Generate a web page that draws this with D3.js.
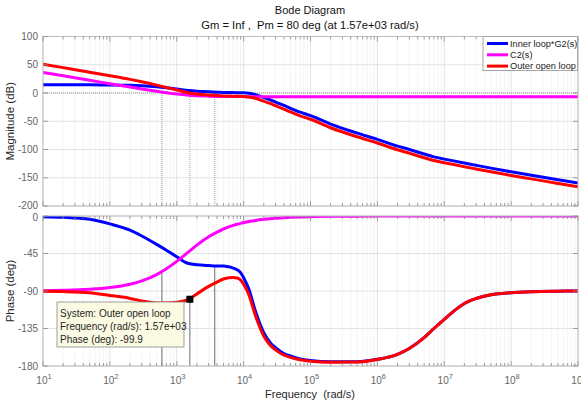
<!DOCTYPE html>
<html>
<head>
<meta charset="utf-8">
<script src="https://cdn.jsdelivr.net/npm/d3@7"></script>
<style>
  body { margin: 0; background: #fff; }
  text { font-family: "Liberation Sans", Arial, sans-serif; }
</style>
</head>
<body>
<div id="vis"></div>
<script>
const freq = [10, 20, 50, 100, 200, 300, 500, 700, 1000, 1500, 2000, 3000, 4000, 5000, 6000, 7000, 8000, 9000,
  10000, 12000, 15000, 20000, 25000, 30000, 40000, 50000, 70000, 1e5, 2e5, 5e5, 1e6, 2e6, 3e6, 5e6, 7e6,
  1e7, 1.5e7, 2e7, 3e7, 5e7, 1e8, 2e8, 5e8, 1e9];

// magnitude (dB)
const magInner = [14.5, 14.5, 14.4, 14.2, 13.6, 12.8, 11, 9.3, 7.2, 4.4, 3.2, 2.2, 1.5, 1.1, 0.9, 0.7, 0.6, 0.5,
  0.3, -0.5, -3, -8, -12, -16, -22, -27, -34, -40, -55, -71, -82, -94, -100, -108, -113,
  -117, -121, -124, -128, -133, -139.5, -145.5, -153.5, -159.5];
const magC2 = [36.4, 30.4, 22.5, 16.4, 10.5, 7.1, 3.0, 0.5, -1.8, -3.8, -4.8, -5.6, -6.0, -6.2, -6.3, -6.3, -6.4, -6.4,
  -6.4, -6.5, -6.5, -6.5, -6.5, -6.5, -6.5, -6.5, -6.5, -6.5, -6.5, -6.5, -6.5, -6.5, -6.5, -6.5, -6.5,
  -6.5, -6.5, -6.5, -6.5, -6.5, -6.5, -6.5, -6.5, -6.5];
const magOuter = [50.9, 44.9, 36.9, 30.6, 24.1, 19.9, 14, 9.8, 5.4, 0.6, -1.6, -3.4, -4.5, -5.1, -5.4, -5.6, -5.8, -5.9,
  -6.1, -7, -9.5, -14.5, -18.5, -22.5, -28.5, -33.5, -40.5, -46.5, -61.5, -77.5, -88.5, -100.5, -106.5, -114.5, -119.5,
  -123.5, -127.5, -130.5, -134.5, -139.5, -146, -152, -160, -166];

// phase (deg)
const phInner = [-0.8, -1.5, -4, -9.5, -17, -24, -34, -41, -49, -57, -58.5, -59.5, -60, -60, -61, -62.5, -64.5, -68,
  -74, -88, -114, -140, -152, -158, -165, -168, -171.5, -173.5, -175, -175, -172, -166, -159, -146, -135,
  -124, -112, -105, -99, -94.5, -92, -90.8, -90.2, -90];
const phC2 = [-89.6, -89.2, -88, -85.9, -81.9, -77.9, -70.3, -63.4, -54.5, -43, -35, -25, -19.3, -15.6, -13.1, -11.3, -9.9, -8.8,
  -8, -6.7, -5.3, -4, -3.2, -2.7, -2, -1.6, -1.1, -0.8, -0.4, -0.2, -0.1, 0, 0, 0, 0,
  0, 0, 0, 0, 0, 0, 0, 0, 0];
const phOuter = [-90.4, -90.7, -92, -95.4, -98.9, -101.9, -104.3, -104.4, -103.5, -100, -93.5, -84.5, -79.3, -75.6, -74.1, -73.8, -74.4, -76.8,
  -82, -94.7, -119.3, -144, -155.2, -160.7, -167, -169.6, -172.6, -174.3, -175.4, -175.2, -172.1, -166, -159, -146, -135,
  -124, -112, -105, -99, -94.5, -92, -90.8, -90.2, -90];

const seriesNames = ["Inner loop*G2(s)", "C2(s)", "Outer open loop"];
const seriesColors = ["#0000ff", "#ff00ff", "#ff0000"];

const magTicks = [100, 50, 0, -50, -100, -150, -200];
const phaseTicks = [0, -45, -90, -135, -180];
const decades = [1, 2, 3, 4, 5, 6, 7, 8, 9];

// crossover markers: frequency and phase of the curve there
const marginFreq = [600, 1570, 3700];
const marginPhase = [-66.8, -99.9, -59.8];

const tip = { freq: 1570, phase: -99.9 };
const tipLines = ["System: Outer open loop", "Frequency (rad/s): 1.57e+03", "Phase (deg): -99.9"];

// ----- LAYOUT ----- //
const W = 581, H = 401;
const left = 43, right = 578;
const magTop = 36.5, magBottom = 206;
const phTop = 216, phBottom = 366;

const svg = d3.select("#vis").append("svg").attr("width", W).attr("height", H);

const x = d3.scaleLog().domain([10, 1e9]).range([left, right]);
const yMag = d3.scaleLinear().domain([-200, 100]).range([magBottom, magTop]);
const yPh = d3.scaleLinear().domain([-180, 0]).range([phBottom, phTop]);

const minorFreqs = [];
decades.slice(0, -1).forEach((d) => {
  for (let k = 2; k <= 9; k++) minorFreqs.push(k * Math.pow(10, d));
});
const majorFreqs = decades.map((d) => Math.pow(10, d));

function drawPanel(y, top, bottom, ticks, id) {
  const g = svg.append("g");
  // minor grid
  g.selectAll(".minor").data(minorFreqs).join("line")
    .attr("x1", (d) => x(d)).attr("x2", (d) => x(d))
    .attr("y1", top).attr("y2", bottom)
    .attr("stroke", "#e3e3e3").attr("stroke-width", 0.8)
    .attr("stroke-dasharray", "1,1");
  // major grid
  g.selectAll(".major").data(majorFreqs).join("line")
    .attr("x1", (d) => x(d)).attr("x2", (d) => x(d))
    .attr("y1", top).attr("y2", bottom)
    .attr("stroke", "#e0e0e0").attr("stroke-width", 0.9);
  g.selectAll(".hgrid").data(ticks).join("line")
    .attr("x1", left).attr("x2", right)
    .attr("y1", (d) => y(d)).attr("y2", (d) => y(d))
    .attr("stroke", "#e0e0e0").attr("stroke-width", 0.9);

  // clip
  svg.append("defs").append("clipPath").attr("id", id)
    .append("rect").attr("x", left).attr("y", top)
    .attr("width", right - left).attr("height", bottom - top);
  return g;
}

function drawFrame(y, top, bottom, ticks, labelShift) {
  const g = svg.append("g");
  g.append("rect").attr("x", left).attr("y", top)
    .attr("width", right - left).attr("height", bottom - top)
    .attr("fill", "none").attr("stroke", "#bdbdbd").attr("stroke-width", 1);
  // x ticks top & bottom, inside
  [top, bottom].forEach((yy, i) => {
    const dir = i === 0 ? 1 : -1;
    g.selectAll(null).data(minorFreqs).join("line")
      .attr("x1", (d) => x(d)).attr("x2", (d) => x(d))
      .attr("y1", yy).attr("y2", yy + dir * 3)
      .attr("stroke", "#8c8c8c").attr("stroke-width", 0.8);
    g.selectAll(null).data(majorFreqs).join("line")
      .attr("x1", (d) => x(d)).attr("x2", (d) => x(d))
      .attr("y1", yy).attr("y2", yy + dir * 5)
      .attr("stroke", "#8c8c8c").attr("stroke-width", 0.8);
  });
  [left, right].forEach((xx, i) => {
    const dir = i === 0 ? 1 : -1;
    g.selectAll(null).data(ticks).join("line")
      .attr("x1", xx).attr("x2", xx + dir * 5)
      .attr("y1", (d) => y(d)).attr("y2", (d) => y(d))
      .attr("stroke", "#8c8c8c").attr("stroke-width", 0.8);
  });
  g.selectAll(null).data(ticks).join("text")
    .attr("x", left - 5).attr("y", (d, i) => y(d) + 3.5 + labelShift(i))
    .attr("text-anchor", "end").attr("font-size", 10)
    .attr("fill", "#666").text((d) => d);
}

drawPanel(yMag, magTop, magBottom, magTicks, "clipMag");
drawPanel(yPh, phTop, phBottom, phaseTicks, "clipPh");

// 0 dB reference line
svg.append("line")
  .attr("x1", left).attr("x2", right)
  .attr("y1", yMag(0)).attr("y2", yMag(0))
  .attr("stroke", "#999").attr("stroke-width", 1).attr("stroke-dasharray", "1,1");

// crossover markers
svg.selectAll(".mMag").data(marginFreq).join("line")
  .attr("x1", (d) => x(d)).attr("x2", (d) => x(d))
  .attr("y1", yMag(0)).attr("y2", magBottom)
  .attr("stroke", "#9a9a9a").attr("stroke-width", 1).attr("stroke-dasharray", "1,1");
svg.selectAll(".mPh").data(marginFreq).join("line")
  .attr("x1", (d) => x(d)).attr("x2", (d) => x(d))
  .attr("y1", (d, i) => yPh(marginPhase[i])).attr("y2", phBottom)
  .attr("stroke", "#6e6e6e").attr("stroke-width", 1);

// ----- CURVES ----- //
const magSeries = [magInner, magC2, magOuter];
const phSeries = [phInner, phC2, phOuter];

const magLine = d3.line().x((d, i) => x(freq[i])).y((d) => yMag(d)).curve(d3.curveMonotoneX);
const phLine = d3.line().x((d, i) => x(freq[i])).y((d) => yPh(d)).curve(d3.curveMonotoneX);

svg.append("g").attr("clip-path", "url(#clipMag)")
  .selectAll("path").data(magSeries).join("path")
  .attr("d", magLine).attr("fill", "none")
  .attr("stroke", (d, i) => seriesColors[i]).attr("stroke-width", 3);

svg.append("g").attr("clip-path", "url(#clipPh)")
  .selectAll("path").data(phSeries).join("path")
  .attr("d", phLine).attr("fill", "none")
  .attr("stroke", (d, i) => seriesColors[i]).attr("stroke-width", 3);

drawFrame(yMag, magTop, magBottom, magTicks, (i) => (i === magTicks.length - 1 ? -1 : 0));
drawFrame(yPh, phTop, phBottom, phaseTicks, (i) => (i === 0 ? 1 : 0));

// ----- X TICK LABELS ----- //
const xl = svg.selectAll(".xlab").data(decades).join("text")
  .attr("x", (d) => x(Math.pow(10, d)) + 1)
  .attr("y", 383.5)
  .attr("text-anchor", "middle").attr("font-size", 10).attr("fill", "#666");
xl.append("tspan").text("10");
xl.append("tspan").attr("dy", -5).attr("font-size", 7.5).text((d) => d);

// ----- LABELS ----- //
svg.append("text").attr("x", 310).attr("y", 14).attr("text-anchor", "middle")
  .attr("font-size", 11).attr("fill", "#111").text("Bode Diagram");
svg.append("text").attr("x", 310).attr("y", 29).attr("text-anchor", "middle")
  .attr("font-size", 11.2).attr("fill", "#111")
  .attr("xml:space", "preserve").style("white-space", "pre")
  .text("Gm = Inf ,  Pm = 80 deg (at 1.57e+03 rad/s)");
svg.append("text").attr("x", 310).attr("y", 397.5).attr("text-anchor", "middle")
  .attr("font-size", 11).attr("fill", "#262626").style("white-space", "pre")
  .text("Frequency  (rad/s)");
svg.append("text").attr("transform", `translate(14,${(magTop + magBottom) / 2}) rotate(-90)`)
  .attr("text-anchor", "middle").attr("font-size", 11.5).attr("fill", "#262626")
  .text("Magnitude (dB)");
svg.append("text").attr("transform", `translate(14,${(phTop + phBottom) / 2}) rotate(-90)`)
  .attr("text-anchor", "middle").attr("font-size", 11.5).attr("fill", "#262626")
  .text("Phase (deg)");

// ----- LEGEND ----- //
const lg = svg.append("g");
lg.append("rect").attr("x", 483).attr("y", magTop).attr("width", 94.5).attr("height", 34)
  .attr("fill", "#fff").attr("stroke", "#a6a6a6").attr("stroke-width", 1);
seriesNames.forEach((name, i) => {
  const yy = magTop + 7 + i * 11.3;
  lg.append("line").attr("x1", 487).attr("x2", 508).attr("y1", yy).attr("y2", yy)
    .attr("stroke", seriesColors[i]).attr("stroke-width", 3);
  lg.append("text").attr("x", 510).attr("y", yy + 3.3).attr("font-size", 9.2)
    .attr("fill", "#222").text(name);
});

// ----- DATA TIP ----- //
const tg = svg.append("g");
tg.append("rect").attr("x", 57).attr("y", 302).attr("width", 127).attr("height", 45)
  .attr("fill", "#fbfbe3").attr("stroke", "#8a8a8a").attr("stroke-width", 0.8);
tg.selectAll("text").data(tipLines).join("text")
  .attr("x", 60).attr("y", (d, i) => 316.5 + i * 13.2)
  .attr("font-size", 10).attr("fill", "#262626").text((d) => d);
tg.append("rect").attr("x", x(tip.freq) - 3.5).attr("y", yPh(tip.phase) - 3.5)
  .attr("width", 7).attr("height", 7).attr("fill", "#000");
</script>
</body>
</html>
